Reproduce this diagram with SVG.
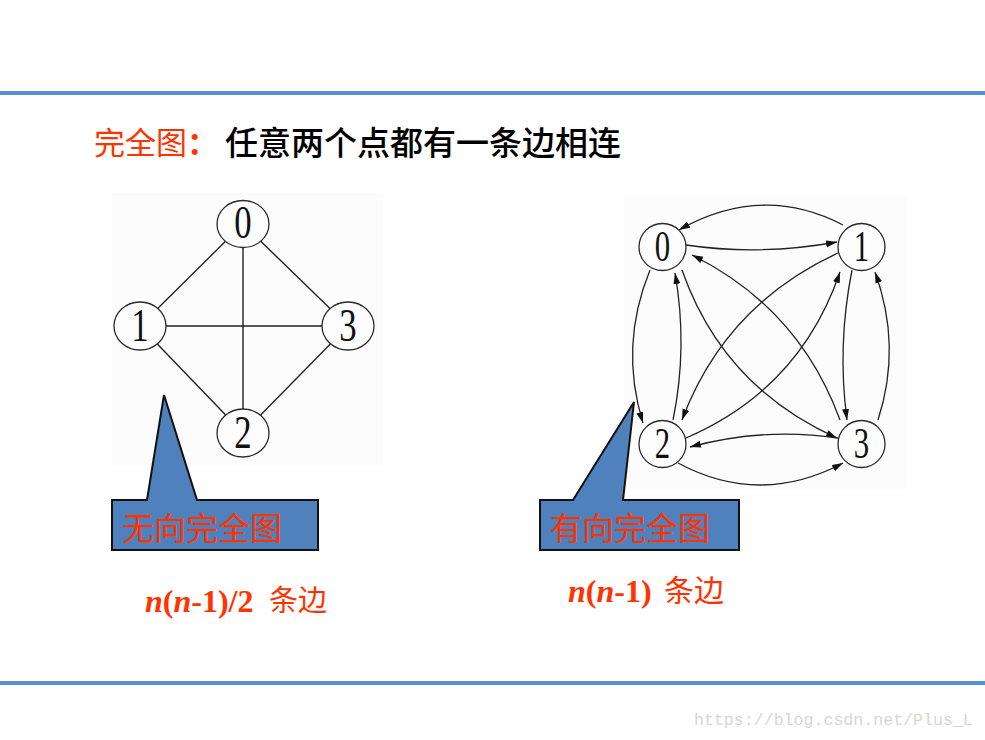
<svg xmlns="http://www.w3.org/2000/svg" width="985" height="740" viewBox="0 0 985 740">
<style>
.node{fill:#fdfdfd;stroke:#2a2a2a;stroke-width:1.3}
.dig{font-family:"Liberation Serif","DejaVu Serif",serif;fill:#111;text-anchor:middle}
.ue{stroke:#222;stroke-width:1.4;fill:none}
.de{stroke:#222;stroke-width:1.3;fill:none;marker-end:url(#ah)}
.cjk{font-family:"Noto Sans CJK SC",sans-serif}
.red{fill:#ff3300}
.callout{fill:#4f81bd;stroke:#111;stroke-width:2;stroke-linejoin:miter}
.math{font-family:"Liberation Serif",serif;font-weight:bold;fill:#ff3300}
</style>
<defs>
<marker id="ah" markerUnits="userSpaceOnUse" markerWidth="12" markerHeight="8" refX="11" refY="3.5" orient="auto">
<path d="M0,0 L11,3.5 L0,7 z" fill="#111"/>
</marker>
</defs>
<rect x="0" y="0" width="985" height="740" fill="#fff"/>
<rect x="0" y="91" width="985" height="4" fill="#558ed5"/>
<rect x="0" y="681" width="985" height="4" fill="#558ed5"/>

<g id="title">
<text class="cjk red" x="94" y="154" font-size="31">完全图<tspan font-weight="bold">：</tspan></text>
<text class="cjk" x="225" y="155" font-size="33" font-weight="500" fill="#000">任意两个点都有一条边相连</text>
</g>

<!-- undirected graph -->
<rect x="112" y="193" width="271" height="273" fill="#fcfcfc"/>
<g id="u-edges">
<line class="ue" x1="243" y1="224" x2="140" y2="326"/>
<line class="ue" x1="243" y1="224" x2="348" y2="326"/>
<line class="ue" x1="243" y1="224" x2="243" y2="433"/>
<line class="ue" x1="140" y1="326" x2="348" y2="326"/>
<line class="ue" x1="140" y1="326" x2="243" y2="433"/>
<line class="ue" x1="348" y1="326" x2="243" y2="433"/>
</g>
<g id="u0"><ellipse class="node" cx="243" cy="224" rx="26" ry="23.5"/><text class="dig" font-size="47" transform="translate(243,238) scale(0.74,1)">0</text></g>
<g id="u1"><ellipse class="node" cx="140" cy="326" rx="26" ry="24"/><text class="dig" font-size="47" transform="translate(140,341) scale(0.74,1)">1</text></g>
<g id="u3"><ellipse class="node" cx="348" cy="326" rx="26" ry="24"/><text class="dig" font-size="47" transform="translate(348,341) scale(0.74,1)">3</text></g>
<g id="u2"><ellipse class="node" cx="243" cy="433" rx="26" ry="24"/><text class="dig" font-size="47" transform="translate(243,448) scale(0.74,1)">2</text></g>

<!-- directed graph -->
<rect x="623" y="196" width="284" height="294" fill="#fcfcfc"/>
<g id="d-edges">
<path class="de" d="M843,225 Q762,183 679,230"/>
<path class="de" d="M686,245 Q760,256 837,242"/>
<path class="de" d="M840,420 Q799,308 692,255"/>
<path class="de" d="M682,270 Q723,387 837,438"/>
<path class="de" d="M838,253 Q725,305 682,420"/>
<path class="de" d="M686,438 Q800,389 840,272"/>
<path class="de" d="M650,270 Q619,346 643,423"/>
<path class="de" d="M673,420 Q688,347 675,273"/>
<path class="de" d="M852,270 Q837,346 847,420"/>
<path class="de" d="M878,420 Q902,346 875,272"/>
<path class="de" d="M838,438 Q764,427 690,447"/>
<path class="de" d="M678,463 Q760,507 843,463"/>
</g>
<g id="d0"><circle class="node" cx="662.5" cy="247" r="23.5"/><text class="dig" font-size="44" transform="translate(662.5,261) scale(0.7,1)">0</text></g>
<g id="d1"><circle class="node" cx="861.5" cy="247" r="23.5"/><text class="dig" font-size="44" transform="translate(861.5,261) scale(0.7,1)">1</text></g>
<g id="d2"><circle class="node" cx="662.5" cy="444" r="23.5"/><text class="dig" font-size="44" transform="translate(662.5,458) scale(0.7,1)">2</text></g>
<g id="d3"><circle class="node" cx="861.5" cy="444" r="23.5"/><text class="dig" font-size="44" transform="translate(861.5,458) scale(0.7,1)">3</text></g>

<!-- callouts -->
<g id="callout-left">
<path class="callout" d="M112,500 L147,500 L164,395 L197,500 L318,500 L318,550 L112,550 Z"/>
<text class="cjk red" x="122" y="540" font-size="32">无向完全图</text>
</g>
<g id="callout-right">
<path class="callout" d="M540,500 L573,500 L634,402 L623,500 L739,500 L739,550 L540,550 Z"/>
<text class="cjk red" x="550" y="540" font-size="32">有向完全图</text>
</g>

<g id="count-left">
<text class="math" x="145" y="612" font-size="32"><tspan font-style="italic">n</tspan>(<tspan font-style="italic">n</tspan>-1)/2</text>
<text class="cjk red" x="269" y="611" font-size="29">条边</text>
</g>
<g id="count-right">
<text class="math" x="568" y="602" font-size="32"><tspan font-style="italic">n</tspan>(<tspan font-style="italic">n</tspan>-1)</text>
<text class="cjk red" x="664" y="601" font-size="30">条边</text>
</g>

<text x="694" y="725" font-family="Liberation Mono,monospace" font-size="16.6" fill="#d9d6d2">https://blog.csdn.net/Plus_L</text>
</svg>
